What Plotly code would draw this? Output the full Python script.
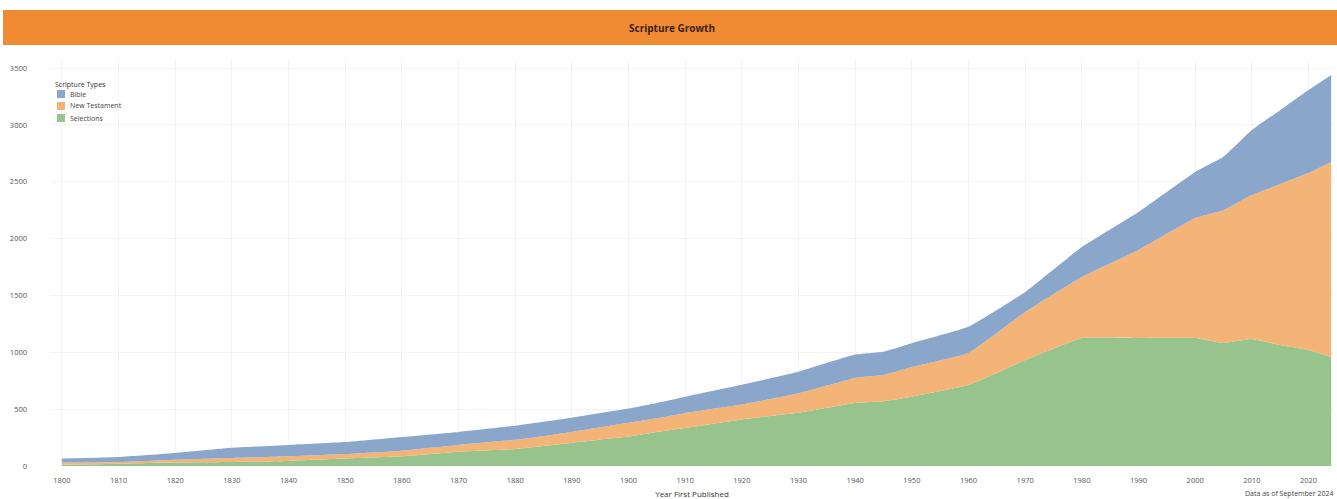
import plotly.graph_objects as go

years = [1800, 1810, 1820, 1830, 1840, 1850, 1860, 1870, 1880, 1890, 1900, 1905, 1910,
         1920, 1930, 1940, 1945, 1950, 1960, 1970, 1980, 1990, 2000, 2005, 2010, 2015,
         2020, 2024]

# cumulative counts (tops of each band)
total_top = [65, 80, 115, 160, 185, 210, 255, 300, 355, 425, 505, 555, 610,
             715, 830, 980, 1005, 1080, 1224, 1530, 1926, 2234, 2586, 2720, 2955, 3130,
             3307, 3440]
nt_top = [30, 35, 55, 70, 85, 105, 135, 185, 230, 300, 380, 420, 465,
          540, 640, 775, 800, 870, 994, 1354, 1662, 1900, 2181, 2250, 2383, 2480,
          2577, 2674]
selections = [12, 20, 30, 35, 45, 65, 85, 125, 150, 205, 260, 300, 335,
              410, 470, 555, 570, 610, 712, 932, 1126, 1126, 1126, 1082, 1117, 1064,
              1020, 959]

new_testament = [a - b for a, b in zip(nt_top, selections)]
bible = [a - b for a, b in zip(total_top, nt_top)]

series_names = ["Selections", "New Testament", "Bible"]
series_values = [selections, new_testament, bible]
series_colors = ["#97C38D", "#F4B478", "#8AA7CB"]

x_ticks = list(range(1800, 2021, 10))
y_ticks = [0, 500, 1000, 1500, 2000, 2500, 3000, 3500]

W, H = 1337, 499
ML, MR, MT, MB = 50, 3, 60, 33
PW, PH = W - ML - MR, H - MT - MB


def px_x(p):
    return (p - ML) / PW


def px_y(p):
    return (H - MB - p) / PH


fig = go.Figure()
for name, vals, col in zip(series_names, series_values, series_colors):
    fig.add_trace(go.Scatter(
        x=years, y=vals, name=name, mode="lines", stackgroup="one",
        line=dict(width=0, color=col, shape="spline", smoothing=0.3),
        fillcolor=col, showlegend=False,
    ))

fig.update_layout(
    width=W, height=H,
    margin=dict(l=ML, r=MR, t=MT, b=MB),
    paper_bgcolor="white", plot_bgcolor="white",
    font=dict(family="Open Sans, Arial, sans-serif", size=8, color="#444"),
    showlegend=False,
    xaxis=dict(
        range=[1797.9, 2024.5], tickvals=x_ticks, ticktext=[str(t) for t in x_ticks],
        showgrid=True, gridcolor="#f3f3f3", gridwidth=1, zeroline=False,
        tickfont=dict(size=7.5, color="#555"), ticks="", ticklabelstandoff=8,
        showline=False,
        title=dict(text="Year First Published", font=dict(size=8, color="#333"), standoff=7),
    ),
    yaxis=dict(
        range=[0, 3571], tickvals=y_ticks, ticktext=[str(t) for t in y_ticks],
        showgrid=True, gridcolor="#f3f3f3", gridwidth=1, zeroline=False,
        tickfont=dict(size=7.5, color="#555"), ticks="", ticklabelstandoff=22,
        showline=False,
    ),
)

# orange title band
fig.add_shape(type="rect", xref="paper", yref="paper",
              x0=px_x(3), x1=px_x(W), y0=px_y(45), y1=px_y(10),
              fillcolor="#F08A33", line=dict(width=0), layer="above")
fig.add_annotation(text="<b>Scripture Growth</b>", xref="paper", yref="paper",
                   x=px_x(672), y=px_y(28), showarrow=False, xanchor="center", yanchor="middle",
                   font=dict(size=10, color="#3a2410", family="Open Sans, Arial, sans-serif"))
fig.add_annotation(text="Data as of September 2024", xref="paper", yref="paper",
                   x=px_x(1335), y=px_y(494), showarrow=False, xanchor="right", yanchor="middle",
                   font=dict(size=7, color="#444"))

# legend (swatches + labels), top to bottom: Bible, New Testament, Selections
fig.add_annotation(text="Scripture Types", xref="paper", yref="paper",
                   x=px_x(53), y=px_y(84), showarrow=False, xanchor="left", yanchor="middle",
                   font=dict(size=7, color="#333"))
for i, (name, col) in enumerate(zip(reversed(series_names), reversed(series_colors))):
    cy = 94 + 12 * i
    fig.add_shape(type="rect", xref="paper", yref="paper",
                  x0=px_x(57), x1=px_x(65), y0=px_y(cy + 4), y1=px_y(cy - 4),
                  fillcolor=col, line=dict(width=0))
    fig.add_annotation(text=name, xref="paper", yref="paper",
                       x=px_x(68), y=px_y(cy), showarrow=False, xanchor="left",
                       yanchor="middle", font=dict(size=7, color="#444"))

fig.write_html("out.html", config={"displayModeBar": False},
               post_script="document.body.style.margin='0';")
